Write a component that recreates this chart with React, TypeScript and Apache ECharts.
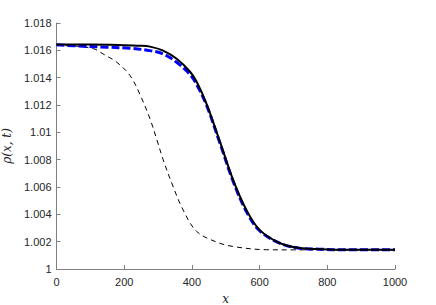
import React, { useEffect, useRef } from "react";
import * as echarts from "echarts";

const xTicks = [0, 200, 400, 600, 800, 1000];
const yTicks = [1, 1.002, 1.004, 1.006, 1.008, 1.01, 1.012, 1.014, 1.016, 1.018];

const initialX = [0, 50, 109, 140, 178, 217, 246, 276, 296, 315, 345, 374, 414, 472, 521, 620, 700, 800, 1000];
const initialRho = [1.01635, 1.01632, 1.01612, 1.0157, 1.01513, 1.01416, 1.0128, 1.011, 1.0095, 1.008, 1.006, 1.00432, 1.00275, 1.00198, 1.00165, 1.00141, 1.0014, 1.0014, 1.0014];

const approxX = [0, 79, 150, 217, 276, 315, 355, 394, 414, 443, 483, 522, 561, 600, 659, 718, 777, 850, 1000];
const approxRho = [1.0164, 1.0163, 1.01623, 1.01615, 1.01598, 1.01574, 1.01513, 1.01425, 1.0135, 1.012, 1.0092, 1.0064, 1.0042, 1.0028, 1.0019, 1.00152, 1.00145, 1.0014, 1.0014];

const exactX = [0, 100, 200, 246, 276, 315, 355, 394, 414, 443, 483, 522, 561, 600, 659, 718, 777, 850, 1000];
const exactRho = [1.01642, 1.01642, 1.01638, 1.01634, 1.01627, 1.01598, 1.01538, 1.01445, 1.0137, 1.0121, 1.0093, 1.0065, 1.00432, 1.00286, 1.0019, 1.00153, 1.00146, 1.00141, 1.0014];

const pairs = (xs: number[], ys: number[]) => xs.map((x, i) => [x, ys[i]]);

export default function App() {
  const ref = useRef<HTMLDivElement>(null);
  useEffect(() => {
    if (!ref.current) return;
    const chart = echarts.init(ref.current, undefined, { renderer: "svg" });
    const axisColor = "#808080";
    const labelStyle = { color: "#262626", fontSize: 11, fontFamily: "Liberation Sans, Arial, sans-serif" };
    const nameStyle = { fontFamily: "DejaVu Serif, serif", fontStyle: "italic", fontSize: 12, color: "#262626" };
    chart.setOption({
      animation: false,
      backgroundColor: "#ffffff",
      grid: { left: 56.5, right: 41, top: 23, bottom: 36, containLabel: false, outerBoundsMode: "none" },
      xAxis: {
        type: "value",
        min: xTicks[0],
        max: xTicks[xTicks.length - 1],
        interval: 200,
        name: "x",
        nameLocation: "middle",
        nameGap: 24,
        nameTextStyle: nameStyle,
        axisLine: { show: true, lineStyle: { color: axisColor, width: 1 } },
        axisTick: { show: true, inside: true, length: 4, lineStyle: { color: axisColor } },
        axisLabel: { ...labelStyle, margin: 7, formatter: (v: number) => String(v) },
        splitLine: { show: false },
      },
      yAxis: {
        type: "value",
        min: yTicks[0],
        max: yTicks[yTicks.length - 1],
        interval: 0.002,
        name: "ρ(x, t)",
        nameLocation: "middle",
        nameGap: 37,
        nameRotate: 90,
        nameTextStyle: nameStyle,
        axisLine: { show: true, lineStyle: { color: axisColor, width: 1 } },
        axisTick: { show: true, inside: true, length: 4, lineStyle: { color: axisColor } },
        axisLabel: { ...labelStyle, margin: 5, formatter: (v: number) => String(parseFloat(v.toFixed(3))) },
        splitLine: { show: false },
      },
      series: [
        {
          type: "line",
          data: pairs(initialX, initialRho),
          smooth: 0.35,
          showSymbol: false,
          lineStyle: { color: "#000000", width: 1, type: [5, 4] },
        },
        {
          type: "line",
          data: pairs(approxX, approxRho),
          smooth: 0.35,
          showSymbol: false,
          lineStyle: { color: "#0000ff", width: 3, type: [8, 3] },
        },
        {
          type: "line",
          data: pairs(exactX, exactRho),
          smooth: 0.35,
          showSymbol: false,
          lineStyle: { color: "#000000", width: 2 },
        },
      ],
    });
    return () => chart.dispose();
  }, []);
  return <div ref={ref} style={{ width: 436, height: 305, position: "absolute", left: 0, top: 0 }} />;
}
